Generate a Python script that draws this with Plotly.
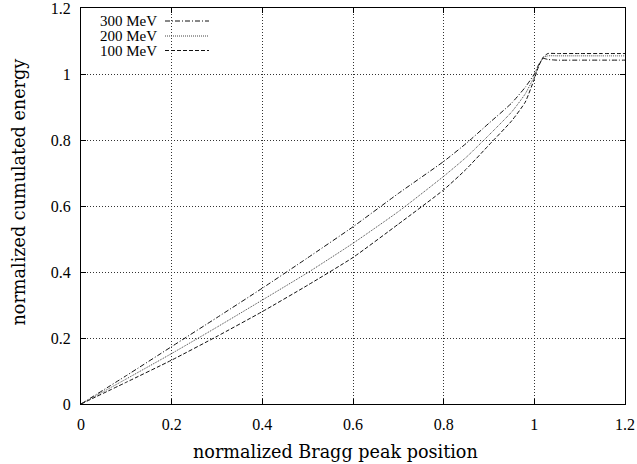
import plotly.graph_objects as go

x_pos = [0, 0.1, 0.2, 0.3, 0.4, 0.5, 0.6, 0.7, 0.8, 0.85, 0.9, 0.95, 0.98, 1.0, 1.01, 1.02, 1.03, 1.05, 1.1, 1.15, 1.2]
e300 = [0, 0.086, 0.174, 0.262, 0.351, 0.443, 0.537, 0.638, 0.735, 0.790, 0.851, 0.912, 0.960, 1.000, 1.030, 1.047, 1.044, 1.042, 1.042, 1.042, 1.042]
e200 = [0, 0.076, 0.153, 0.233, 0.315, 0.398, 0.487, 0.583, 0.690, 0.748, 0.815, 0.885, 0.940, 0.993, 1.028, 1.050, 1.055, 1.055, 1.055, 1.055, 1.055]
e100 = [0, 0.066, 0.133, 0.205, 0.280, 0.360, 0.444, 0.545, 0.649, 0.712, 0.785, 0.858, 0.915, 0.985, 1.025, 1.052, 1.062, 1.062, 1.062, 1.062, 1.062]

series_names = ["300 MeV", "200 MeV", "100 MeV"]
series_vals = [e300, e200, e100]
dashes = ["5px,2px,1px,2px", "1px,1px", "4px,2px"]
colors = ["#111111", "#444444", "#111111"]

tick_vals = [0, 0.2, 0.4, 0.6, 0.8, 1.0, 1.2]
tick_text = ["0", "0.2", "0.4", "0.6", "0.8", "1", "1.2"]
x_title = "normalized Bragg peak position"
y_title = "normalized cumulated energy"

fig = go.Figure()
for name, vals, d, c in zip(series_names, series_vals, dashes, colors):
    fig.add_trace(go.Scatter(x=x_pos, y=vals, mode="lines", name=name,
                             line=dict(color=c, width=1, dash=d, shape="spline", smoothing=0.5),
                             showlegend=False))

L, R, T, B = 81, 625, 8, 404
W, H = R - L, B - T

# manual gnuplot-style key (text then sample)
rows = [21, 36, 50.5]
for name, d, c, py in zip(series_names, dashes, colors, rows):
    yp = (B - py) / H
    fig.add_annotation(x=(157 - L) / W, y=yp, xref="paper", yref="paper", text=name,
                       showarrow=False, xanchor="right", yanchor="middle", xshift=2,
                       font=dict(family="Liberation Serif", size=15, color="black"))
    fig.add_shape(type="line", xref="paper", yref="paper",
                  x0=(165 - L) / W, x1=(209 - L) / W, y0=yp, y1=yp,
                  line=dict(color=c, width=1, dash=d))

# axis titles placed as in the reference
fig.add_annotation(x=(335.5 - L) / W, y=(B - 452) / H, xref="paper", yref="paper",
                   text=x_title, showarrow=False, xanchor="center", yanchor="middle",
                   font=dict(family="DejaVu Serif", size=17.6, color="black"))
fig.add_annotation(x=(18 - L) / W, y=(B - 192.5) / H, xref="paper", yref="paper",
                   text=y_title, showarrow=False, xanchor="center", yanchor="middle",
                   textangle=-90,
                   font=dict(family="DejaVu Serif", size=17.6, color="black"))

axis_common = dict(showline=True, linecolor="black", linewidth=1, mirror="ticks",
                   ticks="inside", ticklen=5, tickcolor="black", automargin=False,
                   showgrid=True, gridcolor="#333333", gridwidth=1, griddash="1px,2px",
                   zeroline=False, tickvals=tick_vals, ticktext=tick_text,
                   ticklabeloverflow="allow", ticklabelstandoff=6,
                   tickfont=dict(family="Liberation Serif", size=16, color="black"))

fig.update_xaxes(range=[0, 1.2], **axis_common)
fig.update_yaxes(range=[0, 1.2], **axis_common)

fig.update_layout(width=637, height=464, margin=dict(l=L, r=637 - R, t=T, b=464 - B),
                  plot_bgcolor="white", paper_bgcolor="white")
fig.write_html("out.html", config={"displayModeBar": False},
               post_script="document.body.style.margin='0';document.body.style.overflow='hidden';")
